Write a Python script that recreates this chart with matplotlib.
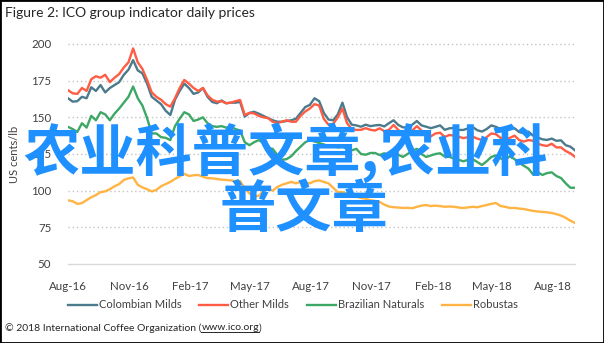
import matplotlib
matplotlib.use("Agg")
import matplotlib.pyplot as plt
import matplotlib.dates as mdates
from matplotlib.patches import Rectangle
from matplotlib.lines import Line2D
import pandas as pd

plt.rcParams['font.family'] = ['Lato', 'DejaVu Sans']

# Weekly observations starting 1 Aug 2016 (US cents/lb)
start_date = "2016-08-01"
n_weeks = 110

colombian_milds = [
    163, 160.7, 161, 164, 163, 170.5, 168, 172, 167, 170,
    172, 174, 179, 182.5, 189, 182, 180, 173, 164, 161.5,
    159, 154.5, 151.6, 162, 168, 173, 170, 166, 167, 170,
    164, 160.5, 159.6, 161.5, 159.6, 160, 160, 160.5, 150.5, 153,
    153.8, 152.5, 151, 149.5, 148, 147, 147, 147.5, 148, 149,
    153, 157, 158.5, 163, 161, 153, 148.5, 148, 152, 160,
    150, 145, 144.5, 143.6, 145, 144, 144.5, 144.8, 143.8, 146,
    148, 144.8, 143.2, 143, 145, 147.5, 144.5, 143.6, 142.6, 143.5,
    144.5, 141.5, 142.5, 142.8, 141.4, 141.4, 142.5, 143.4, 141.2, 140.3,
    142, 144.5, 143.5, 142, 142.5, 143.5, 142.5, 140, 139.1, 140.2,
    137.5, 136.2, 135, 134.6, 135.5, 134, 134.3, 131, 130, 127.5,
]

other_milds = [
    168.5, 166.4, 166, 170, 168, 176, 178, 177, 179, 174,
    177, 179.5, 184, 187.5, 197, 187.5, 183, 175.5, 167, 164,
    162, 159, 157.3, 163, 170, 175.5, 173, 170, 168, 170,
    165, 162, 160.7, 161, 159.6, 160, 161, 161.8, 151.6, 153,
    152.7, 151, 150, 149.5, 147, 146, 147, 148, 147, 147,
    151, 154, 156, 159, 158, 149, 145, 145.5, 150, 156,
    146, 142, 141.4, 141.5, 142.6, 141.5, 141, 142.5, 140.5, 141.5,
    144.8, 141.4, 139, 139.5, 141, 144, 141, 139, 137, 139,
    139.5, 136.6, 138, 137.5, 136.8, 135.8, 136.5, 136.8, 135.5, 134.5,
    136.5, 139, 138.5, 136, 135, 136, 137.5, 134.5, 133.5, 134.5,
    134, 132, 131, 130.5, 132, 129.5, 129.5, 127, 125.5, 123,
]

brazilian_naturals = [
    143.5, 142, 140, 146, 143, 151, 148, 153.5, 152, 148,
    152.5, 156, 160, 164, 171, 163, 158, 149.5, 139, 139,
    136.5, 136, 134.5, 144, 149, 153.5, 152, 147.5, 148.5, 150,
    146, 144, 143.5, 144, 143, 143.5, 142, 141, 133, 131,
    133, 134.5, 132.5, 129, 128.5, 124.3, 121, 121.5, 123.5, 127,
    130, 133, 134.5, 133.5, 132.5, 131.5, 130.5, 131, 129.5, 130,
    128.5, 127.5, 128.5, 125, 124.5, 125.7, 125.7, 124.3, 125.5, 124,
    126, 124.5, 123, 125, 127, 128.5, 125, 123, 124, 125,
    125.5, 123.2, 123, 122, 121, 120, 121, 121.5, 119.5, 117.5,
    120, 123, 124, 122, 121, 123.5, 121.5, 119, 117, 115,
    111, 112.5, 110.7, 112, 112.5, 110, 108.6, 105, 102, 102,
]

robustas = [
    93.4, 92.8, 91, 91.5, 93.6, 95.5, 97, 99, 99.5, 101,
    103, 104.5, 107.3, 108.4, 109, 104, 102.2, 101, 99.5, 100.5,
    103, 104.5, 106, 108, 109.8, 111.5, 110, 110.5, 110.7, 109.5,
    108.6, 108.4, 108, 107.5, 107.3, 107, 106.5, 106.5, 101.6, 98.2,
    96, 96.5, 99.5, 101.5, 100, 102.5, 104, 105, 106, 105,
    106, 105.5, 105, 106.5, 107, 106, 105, 102, 99, 99,
    98, 97, 96, 95, 94.5, 93.5, 93, 92.3, 90.5, 89.2,
    88.7, 88.5, 88.2, 88.3, 88, 89, 89.8, 90.2, 89.5, 89.8,
    89.5, 89, 89.2, 89, 88.5, 88.2, 88.6, 89, 88.7, 89.5,
    90.2, 91, 91.6, 89.5, 89, 88.2, 88.2, 87.8, 87.5, 86.8,
    86.2, 85.8, 85.5, 85.2, 84.8, 84, 83, 81.5, 79.5, 78,
]

series_names = ["Colombian Milds", "Other Milds", "Brazilian Naturals", "Robustas"]
series_colors = ["#4A7A8C", "#FF5C43", "#3DA866", "#FFB444"]
y_ticks = [50, 75, 100, 125, 150, 175, 200]
x_tick_dates = pd.date_range("2016-08-01", "2018-08-01", freq="3MS")

dates = pd.date_range(start_date, periods=n_weeks, freq="7D")

W, H = 604, 343
fig = plt.figure(figsize=(W / 100, H / 100), dpi=100)
fig.patch.set_facecolor("white")

ax = fig.add_axes([68 / W, 1 - 264 / H, (575 - 68) / W, (264 - 44) / H])
ax.set_facecolor("white")

for name, vals, col in zip(series_names,
                           [colombian_milds, other_milds, brazilian_naturals, robustas],
                           series_colors):
    ax.plot(dates, vals, color=col, lw=1.7, label=name, zorder=3)

# Gridlines: dotted above the baseline, solid at the baseline
for yv in y_ticks[1:]:
    ax.axhline(yv, color="#C4C4C4", lw=1.0, linestyle=(0, (1, 2)), zorder=1, clip_on=False)
ax.axhline(y_ticks[0], color="#D9D9D9", lw=1.0, zorder=1, clip_on=False)

ax.set_ylim(50, 200)
ax.set_xlim(dates[0], dates[-1])
ax.set_yticks(y_ticks)
ax.set_xticks(x_tick_dates)
ax.xaxis.set_major_formatter(mdates.DateFormatter("%b-%y"))
for s in ax.spines.values():
    s.set_visible(False)
ax.tick_params(axis="both", length=0, labelsize=8.3, labelcolor="#404040")
ax.tick_params(axis="y", pad=12)
ax.tick_params(axis="x", pad=12)
ax.set_ylabel("US cents/lb", fontsize=8, color="#404040", labelpad=8)

fig.text(5 / W, 1 - 13 / H, "Figure 2: ICO group indicator daily prices",
         fontsize=10, color="#262626", ha="left", va="center")

handles = [Line2D([], [], color=c, lw=1.7) for c in series_colors]
fig.legend(handles, series_names, loc="center", bbox_to_anchor=(293 / W, 1 - 305 / H),
           ncol=4, frameon=False, fontsize=8, handlelength=2.6, handletextpad=0.2,
           columnspacing=1.6, labelcolor="#404040")

# Copyright line with underlined link
fig.canvas.draw()
renderer = fig.canvas.get_renderer()
yc = 1 - 328 / H
t1 = fig.text(5 / W, yc, "\u00a9 2018 International Coffee Organization (",
              fontsize=7.5, color="#262626", ha="left", va="center")
bb1 = t1.get_window_extent(renderer)
t2 = fig.text(bb1.x1 / W, yc, "www.ico.org", fontsize=7.5, color="#262626",
              ha="left", va="center")
bb2 = t2.get_window_extent(renderer)
fig.text(bb2.x1 / W, yc, ")", fontsize=7.5, color="#262626", ha="left", va="center")
fig.add_artist(Line2D([bb2.x0 / W, bb2.x1 / W], [(bb2.y0 + 1) / H, (bb2.y0 + 1) / H],
                      transform=fig.transFigure, color="#262626", lw=0.7))

# Overlay caption
wm_fonts = ["Noto Sans CJK SC", "DejaVu Sans"]
fig.text(23 / W, 1 - 153 / H, "农业科普文章,农业科", fontsize=40.5, color="#1E90FF",
         family=wm_fonts, fontweight="bold", ha="left", va="center", zorder=10)
fig.text(220 / W, 1 - 210 / H, "普文章", fontsize=40.5, color="#1E90FF",
         family=wm_fonts, fontweight="bold", ha="left", va="center", zorder=10)

# Outer frame
fig.add_artist(Rectangle((0, 0), 1, 1, transform=fig.transFigure, fill=False,
                         edgecolor="black", lw=2.0, zorder=20))

fig.savefig("out.png", dpi=100, facecolor="white")
